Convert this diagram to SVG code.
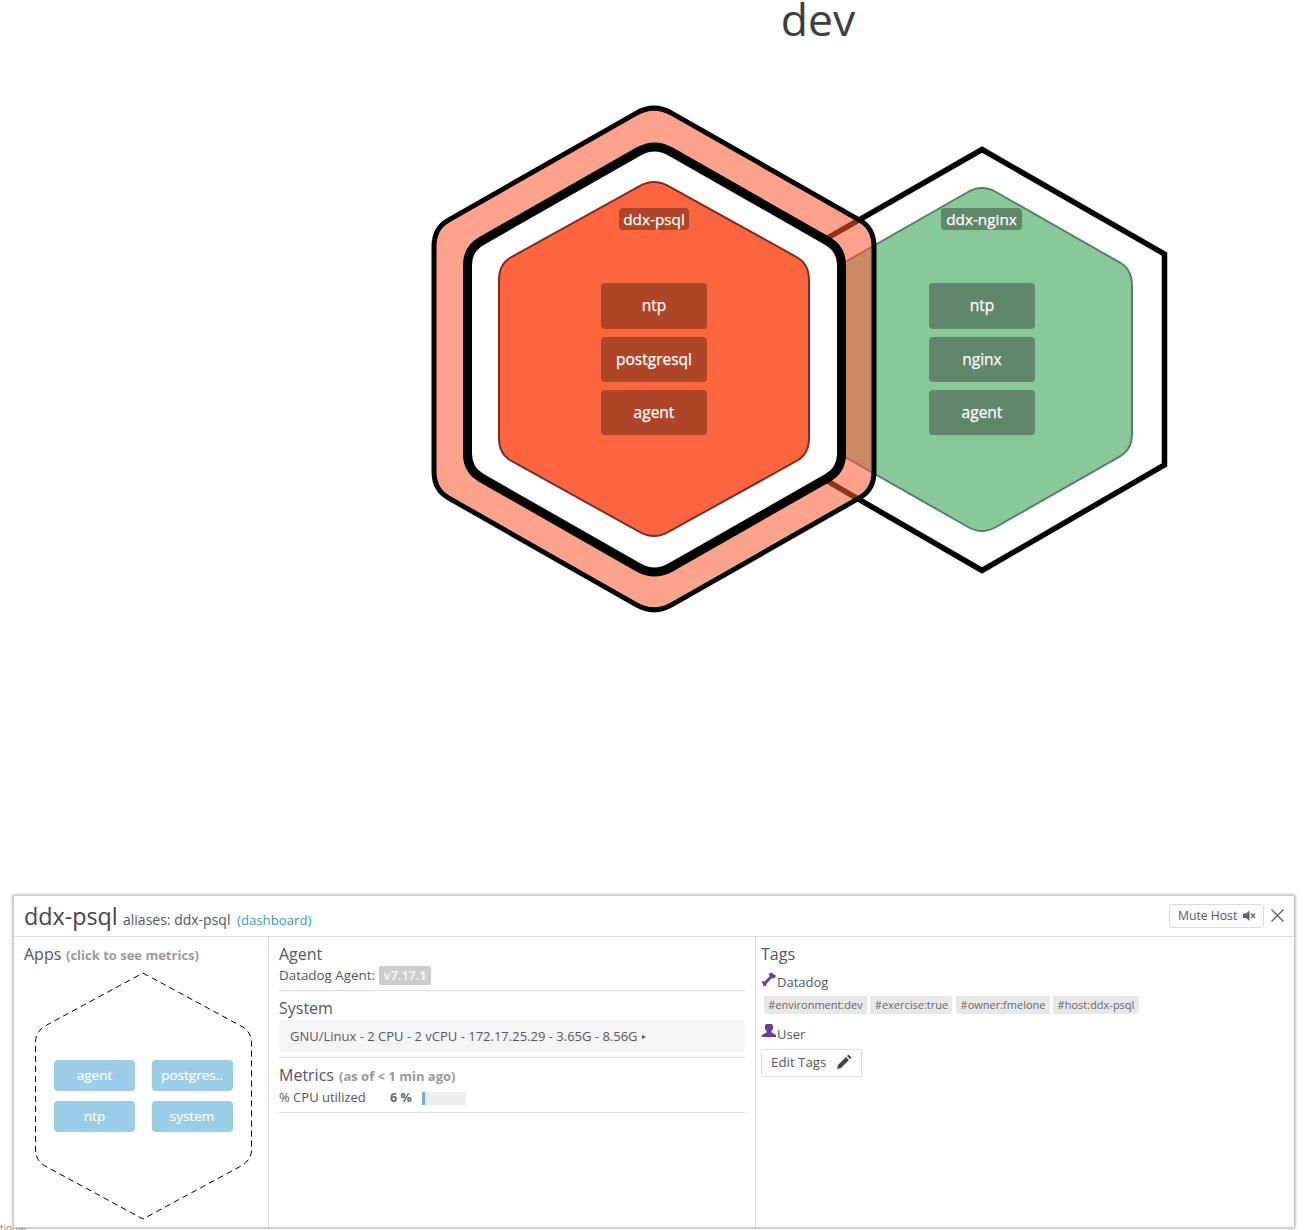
<svg xmlns="http://www.w3.org/2000/svg" width="1308" height="1230" viewBox="0 0 1308 1230">
<defs>
<filter id="shadow" x="-2%" y="-3%" width="104%" height="106%"><feDropShadow dx="0" dy="0" stdDeviation="1.5" flood-color="#000" flood-opacity=".45"/></filter>
</defs>
<style>
text{font-family:"Open Sans","Noto Sans","Liberation Sans",sans-serif}
.svc{font-size:15.5px;fill:#fff;text-anchor:middle;stroke:#fff;stroke-width:.25px}
.hostlabel{font-size:15.3px;fill:#fff;text-anchor:middle;stroke:#fff;stroke-width:.25px}
.psvc,.plabel{fill:#ae4527}
.nsvc,.nlabel{fill:#5e8869}
.h{font-size:16px;fill:#55565a}
.muted{font-size:13px;font-weight:700;fill:#999}
.b{font-size:13px;fill:#55565a}
.s{font-size:13px;fill:#55565a}
.rule{stroke:#ddd;stroke-width:1;fill:none}
.app{fill:#9acde7}
.apptxt{font-size:13.5px;fill:#fff;text-anchor:middle;stroke:#fff;stroke-width:.15px}
.chip{fill:#e8e8e8}
.chiptxt{font-size:11px;fill:#666;text-anchor:middle}
.btn{fill:#fff;stroke:#ddd;stroke-width:1}
.icon{fill:#6a3d9a}
</style>
<rect width="1308" height="1230" fill="#fff"/>
<text x="818" y="36" font-size="44.5" fill="#3d3e42" text-anchor="middle">dev</text>

<g id="host-ddx-nginx">
<polygon points="982,149.5 1164.5,254 1164.5,465 982,570.5 799.5,465 799.5,254" fill="#fff" stroke="#000" stroke-width="5.5"/>
<path d="M968,192 Q982,184 996,192 L1120,262.7 Q1132,269.5 1132,285.5 L1132,433.500 Q1132,449.500 1120,456.300 L996,527 Q982,535 968,527 L844,456.300 Q832,449.500 832,433.500 L832,285.5 Q832,269.5 844,262.7 Z" fill="#88c999" stroke="#558066" stroke-width="2"/>
<rect class="nlabel" x="941" y="208" width="81" height="22" rx="4"/>
<text class="hostlabel" x="981.5" y="225">ddx-nginx</text>
<rect class="nsvc" x="929" y="283" width="106" height="46" rx="4"/>
<text class="svc" x="982" y="311">ntp</text>
<rect class="nsvc" x="929" y="337" width="106" height="45" rx="4"/>
<text class="svc" x="982" y="365">nginx</text>
<rect class="nsvc" x="929" y="390" width="106" height="45" rx="4"/>
<text class="svc" x="982" y="418">agent</text>
</g>

<g id="host-ddx-psql">
<path d="M636,113.300 Q654,103 672,113.300 L860,220.400 Q874,228.400 874,246.400 L874,471.600 Q874,489.600 860,497.600 L672,604.700 Q654,615 636,604.700 L448,497.600 Q434,489.600 434,471.600 L434,246.400 Q434,228.400 448,220.400 Z" fill="rgb(255,90,50)" fill-opacity=".56" stroke="#000" stroke-width="5"/>
<path d="M638.5,151.5 Q654.5,142.5 670.5,151.5 L827.5,241 Q841.5,249 841.5,265 L841.5,454 Q841.5,470 827.5,478 L670.5,567.5 Q654.5,576.5 638.5,567.5 L481.5,478 Q467.5,470 467.5,454 L467.5,265 Q467.5,249 481.5,241 Z" fill="#fff" stroke="#000" stroke-width="9"/>
<path d="M640,185.800 Q654,178 668,185.800 L797,257.300 Q809,264 809,280 L809,438 Q809,454 797,460.700 L668,532.200 Q654,540 640,532.200 L511,460.700 Q499,454 499,438 L499,280 Q499,264 511,257.300 Z" fill="#ff653f" stroke="#7a3020" stroke-width="2"/>
<rect class="plabel" x="619" y="208" width="70" height="22" rx="4"/>
<text class="hostlabel" x="654" y="225">ddx-psql</text>
<rect class="psvc" x="601" y="283" width="106" height="46" rx="4"/>
<text class="svc" x="654" y="311">ntp</text>
<rect class="psvc" x="601" y="337" width="106" height="45" rx="4"/>
<text class="svc" x="654" y="365">postgresql</text>
<rect class="psvc" x="601" y="390" width="106" height="45" rx="4"/>
<text class="svc" x="654" y="418">agent</text>
</g>

<text x="0" y="1232" font-size="10" fill="#888">tional</text>
<g id="detail-panel">
<rect x="13.5" y="895.5" width="1281" height="332" fill="#fff" stroke="#ccc" filter="url(#shadow)"/>
<path class="rule" d="M14,936.5H1294M268.5,937V1227M755.5,937V1227"/>
<text x="24" y="925" font-size="23.3" fill="#45464a">ddx-psql</text>
<text x="123" y="925" font-size="14" fill="#55565a">aliases: ddx-psql</text>
<text x="237" y="925" font-size="13.2" fill="#3c96c4">(dashboard)</text>
<g id="mute-host">
<rect class="btn" x="1169.5" y="904.5" width="94" height="23" rx="2"/>
<text x="1178" y="920" font-size="12.2" fill="#55565a">Mute Host</text>
<path d="M1243,913.5h3l3.5-3v10.5l-3.5-3h-3z" fill="#666"/>
<path d="M1251,913.5l4,4.5m0,-4.5l-4,4.5" stroke="#666" stroke-width="1.2" fill="none"/>
</g>
<path id="close" d="M1271.5,909.5l12,12m0,-12l-12,12" stroke="#555" stroke-width="1.2" fill="none"/>

<g id="apps">
<text class="h" x="24" y="960">Apps</text>
<text class="muted" x="66" y="960">(click to see metrics)</text>
<path d="M143,973 L241,1026 Q251.5,1032 251.5,1042 L251.5,1150 Q251.5,1160 241,1166 L143,1219 L45,1166 Q35.5,1160 35.5,1150 L35.5,1042 Q35.5,1032 45,1026 Z" fill="none" stroke="#000" stroke-dasharray="6 4"/>
<rect class="app" x="54" y="1060" width="81" height="31" rx="4"/>
<text class="apptxt" x="94.5" y="1080">agent</text>
<rect class="app" x="152" y="1060" width="81" height="31" rx="4"/>
<text class="apptxt" x="192" y="1080">postgres..</text>
<rect class="app" x="54" y="1101" width="81" height="31" rx="4"/>
<text class="apptxt" x="94.5" y="1121">ntp</text>
<rect class="app" x="152" y="1101" width="81" height="31" rx="4"/>
<text class="apptxt" x="192" y="1121">system</text>
</g>

<g id="agent">
<text class="h" x="279" y="960">Agent</text>
<text x="279" y="980" font-size="13.4" fill="#55565a">Datadog Agent:</text>
<rect x="379" y="966" width="52" height="19" rx="2" fill="#ccc"/>
<text x="405" y="980" font-size="12.5" font-weight="700" fill="#f2f2f2" text-anchor="middle">v7.17.1</text>
<path class="rule" d="M279,990.5H745"/>
</g>
<g id="system">
<text class="h" x="279" y="1014">System</text>
<rect x="279" y="1020" width="466" height="32" rx="2" fill="#f5f5f5"/>
<text class="s" x="290" y="1041">GNU/Linux - 2 CPU - 2 vCPU - 172.17.25.29 - 3.65G - 8.56G</text>
<path d="M642,1035l4,2l-4,2z" fill="#555"/>
<path class="rule" d="M279,1057.5H745"/>
</g>
<g id="metrics">
<text class="h" x="279" y="1081">Metrics</text>
<text class="muted" x="339" y="1081">(as of &lt; 1 min ago)</text>
<text class="s" x="279" y="1102">% CPU utilized</text>
<text x="390" y="1102" font-size="12.5" font-weight="700" fill="#666">6 %</text>
<rect x="422" y="1092" width="44" height="13" fill="#eee"/>
<rect x="422" y="1092" width="3" height="13" fill="#6fb1d8"/>
<path class="rule" d="M279,1112.5H745"/>
</g>
<g id="tags">
<text class="h" x="761" y="960">Tags</text>
<path class="icon" d="M761.5,981l3,0.5l5,-5l-0.500,-3l3,-1l1.500,2l2,0.500l0,2.500l-2.500,1l-1,-0.500l-5.500,5.500l-0.500,2.500l-2.500,0l-0.500,-2z"/>
<text class="b" x="777" y="987">Datadog</text>
<rect class="chip" x="764" y="996" width="103" height="18" rx="2"/>
<text class="chiptxt" x="815.5" y="1009">#environment:dev</text>
<rect class="chip" x="870" y="996" width="82" height="18" rx="2"/>
<text class="chiptxt" x="911.5" y="1009">#exercise:true</text>
<rect class="chip" x="956" y="996" width="94" height="18" rx="2"/>
<text class="chiptxt" x="1003" y="1009">#owner:fmelone</text>
<rect class="chip" x="1053" y="996" width="86" height="18" rx="2"/>
<text class="chiptxt" x="1096" y="1009">#host:ddx-psql</text>
<path class="icon" d="M766,1024h6l1,2v3l-2,3l5,3v2h-14v-2l5,-3l-2,-3v-3z"/>
<text class="b" x="777" y="1039">User</text>
<g id="edit-tags">
<rect class="btn" x="761.5" y="1049.5" width="100" height="27" rx="2"/>
<text x="771" y="1067" font-size="13.3" fill="#55565a">Edit Tags</text>
<path d="M837,1069l1,-4l8,-8l3,3l-8,8zM847,1056l1.500,-1.500l3,3l-1.500,1.500z" fill="#444"/>
</g>
</g>
</g>
</svg>
